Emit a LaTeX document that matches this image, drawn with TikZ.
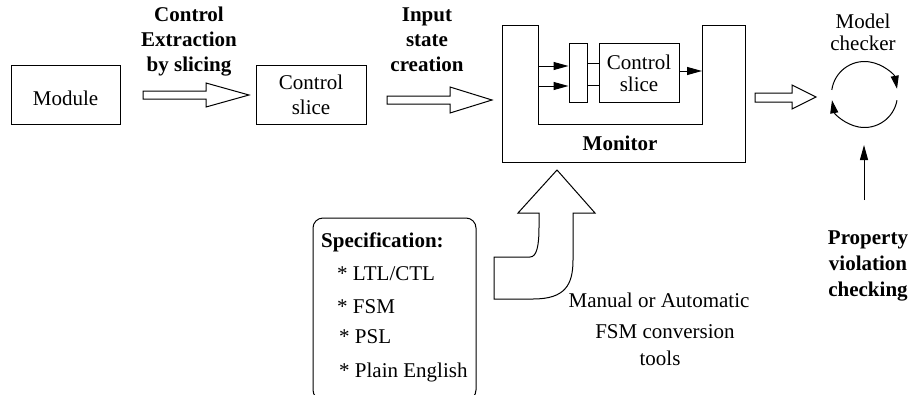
\documentclass[tikz,border=0pt]{standalone}
\usepackage{fontspec}
\setmainfont{Liberation Serif}
\usetikzlibrary{arrows.meta,calc}
\begin{document}
\begin{tikzpicture}[x=1pt,y=-1pt,
  every node/.style={inner sep=0pt, font=\fontsize{21}{25}\selectfont},
  box/.style={draw, line width=1pt, align=center},
  lbl/.style={font=\fontsize{21}{25}\selectfont\bfseries, align=center},
  wire/.style={line width=1pt},
  tip/.style={wire, -{Triangle[length=15pt,width=8pt]}},
  arctip/.style={wire, -{Triangle[length=13pt,width=8pt]}},
  hollow/.style={draw, line width=1pt, fill=white, line join=miter},
]
\useasboundingbox (0,0) rectangle (910,394);

% ---- source module and extracted slice
\node[box, minimum width=109pt, minimum height=59pt,
      text height=21pt, text depth=0pt] (module) at (65.5,94.5) {Module};
\node[box, minimum width=110pt, minimum height=59pt] (cs1) at (311,95) {Control\\slice};

\node[lbl] (cex) at (189,42) {Control\\Extraction\\by slicing};
\node[lbl] (isc) at (427,40) {Input\\state\\creation};

% block arrows between the stages
\draw[hollow] (143,91) -- (206,91) -- (206,83) -- (249,95) -- (206,107) -- (206,99) -- (143,99) -- cycle;
\draw[hollow] (387,96) -- (450,96) -- (450,87) -- (492,100) -- (450,113) -- (450,104) -- (387,104) -- cycle;
\draw[hollow] (755,93) -- (792,93) -- (792,85) -- (816,97) -- (792,109) -- (792,102) -- (755,102) -- cycle;

% ---- monitor (U-shaped frame)
\draw[wire] (502,25) -- (538,25) -- (538,124) -- (702,124) -- (702,25)
  -- (745,25) -- (745,162) -- (502,162) -- cycle;
\node[lbl, anchor=base] (monlbl) at (620,150) {Monitor};

\node[box, minimum width=18pt, minimum height=59pt] (mux) at (578,72.5) {};
\node[box, minimum width=80pt, minimum height=59pt,
      font=\fontsize{21}{22}\selectfont] (cs2) at (639,73) {Control\\slice};

\coordinate (in1) at (538,66);
\coordinate (in2) at (538,86);
\coordinate (m1) at (587,63);
\coordinate (m2) at (587,85);
\coordinate (o1) at (679,71);
\coordinate (wr) at (702,71);
\draw[tip] (in1) -- (in1 -| mux.west);
\draw[tip] (in2) -- (in2 -| mux.west);
\draw[wire] (m1) -- (m1 -| cs2.west);
\draw[wire] (m2) -- (m2 -| cs2.west);
\draw[tip] (o1) -- (wr);

% ---- model checker
\node[align=center, font=\fontsize{21}{22}\selectfont] (mclbl) at (863,32) {Model\\checker};
\node[circle, minimum size=66pt] (mc) at (864.5,94.5) {};
\draw[arctip] (mc.center) ++(188:33) arc[start angle=188, end angle=350, radius=33];
\draw[arctip] (mc.center) ++(10:33) arc[start angle=10, end angle=170, radius=33];

\coordinate (pv) at (864,200);
\coordinate (pvt) at (864,145);
\draw[tip] (pv) -- (pvt);
\node[lbl, font=\fontsize{21}{26}\selectfont\bfseries] (prop) at (868,266) {Property\\violation\\checking};

% ---- specification input
\node[draw, line width=1pt, rounded corners=10pt, minimum width=163pt,
      minimum height=182pt] (spec) at (394.5,309) {};
\node[anchor=base west, font=\fontsize{21}{25}\selectfont\bfseries] (sp0) at (321,247) {Specification:};
\node[anchor=base west] (sp1) at (337,280) {* LTL/CTL};
\node[anchor=base west] (sp2) at (337,313) {* FSM};
\node[anchor=base west] (sp3) at (339,343) {* PSL};
\node[anchor=base west] (sp4) at (339,377) {* Plain English};

% bent block arrow into the monitor
\draw[hollow] (494,257) -- (530,257) .. controls (537,257) and (539,245) .. (539,227)
  -- (539,213) -- (518,213) -- (557,170) -- (595,213) -- (573,213) -- (573,260)
  .. controls (573,285) and (565,299) .. (533,299) -- (494,299) -- cycle;

\node[anchor=base] (man1) at (659,307) {Manual or Automatic};
\node[anchor=base] (man2) at (665,338) {FSM conversion};
\node[anchor=base] (man3) at (660,365) {tools};
\end{tikzpicture}
\end{document}
